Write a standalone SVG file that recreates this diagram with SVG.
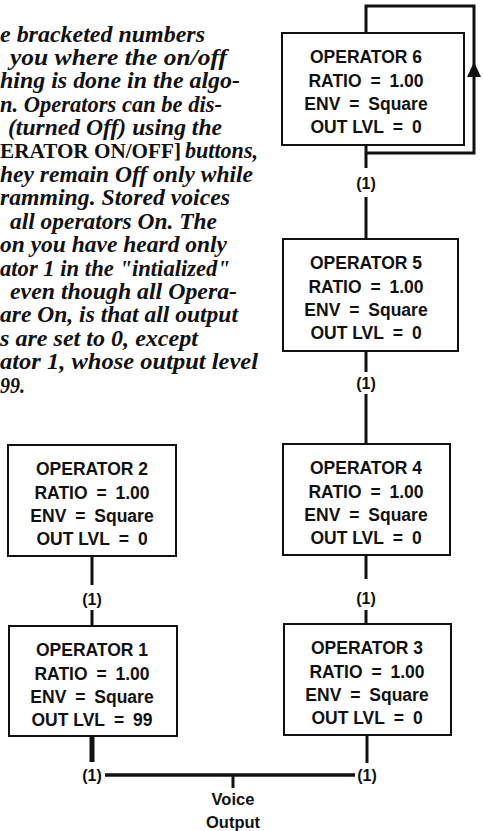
<svg xmlns="http://www.w3.org/2000/svg" width="483" height="831" viewBox="0 0 483 831">
<style>
.bg{fill:#fff}
.box{fill:#fff;stroke:#111;stroke-width:2}
.bt{font-family:"Liberation Sans",Arial,sans-serif;font-weight:bold;font-size:17.5px;fill:#111;text-anchor:middle}
.eq{word-spacing:4px}
.lbl{font-family:"Liberation Sans",Arial,sans-serif;font-weight:bold;font-size:16px;fill:#111;text-anchor:middle}
.vo{font-size:16.5px}
.ln{stroke:#111;stroke-width:3;fill:none}
.para{font-family:"Liberation Serif","Times New Roman",serif;font-style:italic;font-weight:bold;font-size:23px;fill:#111}
.up{font-family:"Liberation Serif","Times New Roman",serif;font-weight:bold;font-size:22px;fill:#111}
</style>
<rect class="bg" x="0" y="0" width="483" height="831"/>
<g id="paragraph">
<text class="para" x="0" y="42" textLength="205" lengthAdjust="spacingAndGlyphs">e bracketed numbers</text>
<text class="para" x="10" y="65" textLength="217" lengthAdjust="spacingAndGlyphs">you where the on/off</text>
<text class="para" x="0" y="88" textLength="240" lengthAdjust="spacingAndGlyphs">hing is done in the algo-</text>
<text class="para" x="0" y="112" textLength="222" lengthAdjust="spacingAndGlyphs">n. Operators can be dis-</text>
<text class="para" x="8" y="135" textLength="214" lengthAdjust="spacingAndGlyphs">(turned Off) using the</text>
<text class="up" x="0" y="158" textLength="181" lengthAdjust="spacingAndGlyphs">ERATOR ON/OFF]</text>
<text class="para" x="185" y="158" textLength="73" lengthAdjust="spacingAndGlyphs">buttons,</text>
<text class="para" x="0" y="182" textLength="253" lengthAdjust="spacingAndGlyphs">hey remain Off only while</text>
<text class="para" x="0" y="205" textLength="230" lengthAdjust="spacingAndGlyphs">ramming. Stored voices</text>
<text class="para" x="10" y="229" textLength="207" lengthAdjust="spacingAndGlyphs">all operators On. The</text>
<text class="para" x="0" y="252" textLength="227" lengthAdjust="spacingAndGlyphs">on you have heard only</text>
<text class="para" x="0" y="276" textLength="230" lengthAdjust="spacingAndGlyphs">ator 1 in the "intialized"</text>
<text class="para" x="10" y="299" textLength="227" lengthAdjust="spacingAndGlyphs">even though all Opera-</text>
<text class="para" x="0" y="322" textLength="238" lengthAdjust="spacingAndGlyphs">are On, is that all output</text>
<text class="para" x="0" y="346" textLength="198" lengthAdjust="spacingAndGlyphs">s are set to 0, except</text>
<text class="para" x="0" y="369" textLength="258" lengthAdjust="spacingAndGlyphs">ator 1, whose output level</text>
<text class="para" x="0" y="393" textLength="25" lengthAdjust="spacingAndGlyphs">99.</text>
</g>
<g id="connectors">
<path class="ln" d="M366 33 V6 H474 V153 H366"/>
<path d="M474 62 L467 77 L481 77 Z" fill="#111"/>
<path class="ln" d="M366 145 V168"/>
<path class="ln" d="M366 197 V239"/>
<path class="ln" d="M366 351 V372"/>
<path class="ln" d="M366 394 V444"/>
<path class="ln" d="M366 555 V579"/>
<path class="ln" d="M366 610 V624"/>
<path class="ln" d="M92 556 V585"/>
<path class="ln" d="M92 610 V626"/>
<path class="ln" d="M92 736 V762" style="stroke-width:5"/>
<path class="ln" d="M367 735 V763"/>
<path class="ln" d="M105 775 H355" style="stroke-width:3.5"/>
<path class="ln" d="M233 775 V788"/>
<text class="lbl" x="366" y="189">(1)</text>
<text class="lbl" x="366" y="389">(1)</text>
<text class="lbl" x="366" y="604">(1)</text>
<text class="lbl" x="92" y="605">(1)</text>
<text class="lbl" x="92" y="781">(1)</text>
<text class="lbl" x="367" y="781">(1)</text>
<text class="lbl vo" x="233" y="805">Voice</text>
<text class="lbl vo" x="233" y="828">Output</text>
</g>
<g id="op6">
<rect class="box" x="282" y="33" width="182" height="112"/>
<text class="bt" x="366" y="63">OPERATOR 6</text>
<text class="bt eq" x="366" y="87">RATIO = 1.00</text>
<text class="bt eq" x="366" y="110">ENV = Square</text>
<text class="bt" x="366" y="133">OUT LVL<tspan class="eq"> = 0</tspan></text>
</g>
<g id="op5">
<rect class="box" x="283" y="239" width="175" height="112"/>
<text class="bt" x="366" y="269">OPERATOR 5</text>
<text class="bt eq" x="366" y="293">RATIO = 1.00</text>
<text class="bt eq" x="366" y="316">ENV = Square</text>
<text class="bt" x="366" y="339">OUT LVL<tspan class="eq"> = 0</tspan></text>
</g>
<g id="op4">
<rect class="box" x="283" y="444" width="167" height="111"/>
<text class="bt" x="366" y="474">OPERATOR 4</text>
<text class="bt eq" x="366" y="498">RATIO = 1.00</text>
<text class="bt eq" x="366" y="521">ENV = Square</text>
<text class="bt" x="366" y="544">OUT LVL<tspan class="eq"> = 0</tspan></text>
</g>
<g id="op3">
<rect class="box" x="284" y="624" width="167" height="111"/>
<text class="bt" x="367" y="654">OPERATOR 3</text>
<text class="bt eq" x="367" y="678">RATIO = 1.00</text>
<text class="bt eq" x="367" y="701">ENV = Square</text>
<text class="bt" x="367" y="724">OUT LVL<tspan class="eq"> = 0</tspan></text>
</g>
<g id="op2">
<rect class="box" x="8" y="445" width="168" height="111"/>
<text class="bt" x="92" y="475">OPERATOR 2</text>
<text class="bt eq" x="92" y="499">RATIO = 1.00</text>
<text class="bt eq" x="92" y="522">ENV = Square</text>
<text class="bt" x="92" y="545">OUT LVL<tspan class="eq"> = 0</tspan></text>
</g>
<g id="op1">
<rect class="box" x="9" y="626" width="168" height="110"/>
<text class="bt" x="92" y="656">OPERATOR 1</text>
<text class="bt eq" x="92" y="680">RATIO = 1.00</text>
<text class="bt eq" x="92" y="703">ENV = Square</text>
<text class="bt" x="92" y="726">OUT LVL<tspan class="eq"> = 99</tspan></text>
</g>
</svg>
